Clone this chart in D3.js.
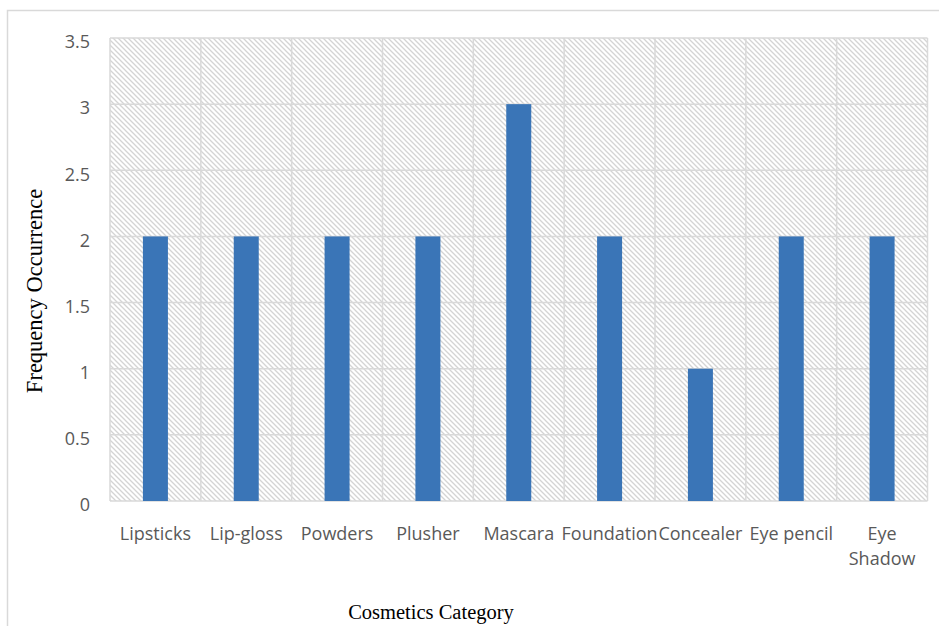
<!DOCTYPE html>
<html lang="en">
<head>
    <meta charset="UTF-8">
    <title>Cosmetics category frequency</title>
    <style>
        body { margin: 0; background: #fff; }
        .tick text { font-family: "Open Sans", sans-serif; font-size: 18px; fill: #595959; }
        .axis_title { font-family: "Liberation Serif", serif; fill: #000; }
    </style>
    <script src="https://d3js.org/d3.v7.min.js"></script>
</head>
<body>
<svg id="chart" width="939" height="626"></svg>
<script>
    const categories = ["Lipsticks", "Lip-gloss", "Powders", "Plusher", "Mascara", "Foundation", "Concealer", "Eye pencil", "Eye Shadow"];
    const frequency = [2, 2, 2, 2, 3, 2, 1, 2, 2];
    const yTicks = [0, 0.5, 1, 1.5, 2, 2.5, 3, 3.5];

    const svg = d3.select("#chart");
    const plotLeft = 110, plotRight = 927.5, plotTop = 38, plotBottom = 501;

    // outer chart border
    svg.append("rect")
        .attr("x", 7.5).attr("y", 10.5)
        .attr("width", 960).attr("height", 700)
        .attr("fill", "none").attr("stroke", "#d9d9d9").attr("stroke-width", 1.5);

    // hatch fill for the plot area
    const pat = svg.append("defs").append("pattern")
        .attr("id", "hatch")
        .attr("patternUnits", "userSpaceOnUse")
        .attr("width", 5).attr("height", 5);
    pat.append("rect").attr("width", 5).attr("height", 5).attr("fill", "#fff");
    pat.append("path")
        .attr("d", "M-1,-1 L6,6 M-1,4 L1,6 M4,-1 L6,1")
        .attr("stroke", "#d4d4d4").attr("stroke-width", 1.3);

    const x = d3.scaleBand().domain(categories).range([plotLeft, plotRight]).paddingInner(0).paddingOuter(0);
    const y = d3.scaleLinear().domain([0, 3.5]).range([plotBottom, plotTop]);

    svg.append("rect")
        .attr("x", plotLeft).attr("y", plotTop)
        .attr("width", plotRight - plotLeft).attr("height", plotBottom - plotTop)
        .attr("fill", "url(#hatch)");

    // gridlines
    const grid = svg.append("g").attr("stroke", "#d9d9d9").attr("stroke-width", 1.5);
    yTicks.forEach(function (t) {
        grid.append("line")
            .attr("x1", plotLeft).attr("x2", plotRight)
            .attr("y1", y(t)).attr("y2", y(t));
    });
    categories.forEach(function (c) {
        grid.append("line")
            .attr("x1", x(c)).attr("x2", x(c))
            .attr("y1", plotTop).attr("y2", plotBottom);
    });
    grid.append("line")
        .attr("x1", plotRight).attr("x2", plotRight)
        .attr("y1", plotTop).attr("y2", plotBottom);

    // bars
    const barW = 25;
    svg.append("g").selectAll("rect")
        .data(categories)
        .join("rect")
        .attr("x", (d) => x(d) + x.bandwidth() / 2 - barW / 2)
        .attr("y", (d, i) => y(frequency[i]))
        .attr("width", barW)
        .attr("height", (d, i) => y(0) - y(frequency[i]))
        .attr("fill", "#3a75b7");

    // y axis labels (sit a little below their gridline, like the original)
    const yAxis = svg.append("g")
        .attr("transform", "translate(" + plotLeft + ",4)")
        .call(d3.axisLeft(y).tickValues(yTicks).tickSize(0).tickPadding(20).tickFormat(d3.format("")));
    yAxis.select(".domain").remove();

    // x axis labels
    const xAxis = svg.append("g")
        .attr("transform", "translate(0," + plotBottom + ")")
        .call(d3.axisBottom(x).tickSize(0).tickPadding(26));
    xAxis.select(".domain").remove();
    xAxis.selectAll(".tick text").each(function (d) {
        const t = d3.select(this);
        if (d === "Eye Shadow") {
            t.text(null);
            t.append("tspan").attr("x", 0).attr("dy", "0.71em").text("Eye");
            t.append("tspan").attr("x", 0).attr("dy", "1.38em").text("Shadow");
        }
    });

    // axis titles
    svg.append("text")
        .attr("class", "axis_title")
        .style("font-size", "22.5px")
        .attr("transform", "translate(42,291) rotate(-90)")
        .attr("text-anchor", "middle")
        .text("Frequency Occurrence");

    svg.append("text")
        .attr("class", "axis_title")
        .style("font-size", "20.5px")
        .attr("x", 431).attr("y", 619)
        .attr("text-anchor", "middle")
        .text("Cosmetics Category");
</script>
</body>
</html>
